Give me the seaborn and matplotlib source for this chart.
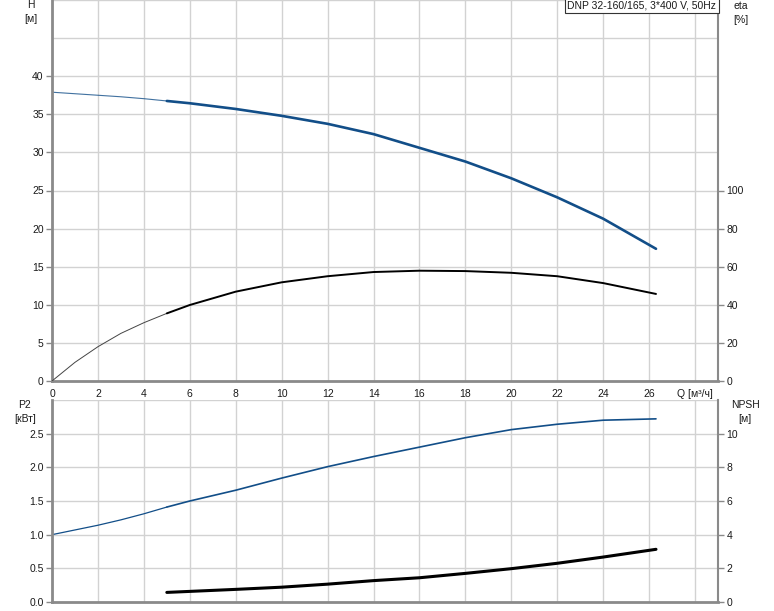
import numpy as np
import pandas as pd
import matplotlib
matplotlib.use("Agg")
import matplotlib.pyplot as plt
import seaborn as sns

# ---- data ----
q = [0, 1, 2, 3, 4, 5, 6, 8, 10, 12, 14, 16, 18, 20, 22, 24, 26.3]
head = [37.9, 37.7, 37.5, 37.3, 37.05, 36.75, 36.45, 35.7, 34.8, 33.75, 32.4, 30.6, 28.8, 26.6, 24.1, 21.3, 17.35]
eta = [0, 9.8, 18.0, 25.0, 30.6, 35.5, 39.9, 46.9, 51.8, 55.0, 57.2, 57.9, 57.7, 56.8, 55.0, 51.4, 45.7]
p2 = [1.0, 1.07, 1.14, 1.22, 1.31, 1.41, 1.50, 1.66, 1.84, 2.01, 2.16, 2.30, 2.44, 2.56, 2.64, 2.70, 2.72]
npsh_q = [5, 6, 8, 10, 12, 14, 16, 18, 20, 22, 24, 26.3]
npsh = [0.57, 0.63, 0.75, 0.88, 1.06, 1.27, 1.44, 1.70, 1.98, 2.30, 2.67, 3.13]

x_ticks = list(range(0, 29, 2))
x_labels = [str(v) for v in range(0, 27, 2)] + ["Q [м³/ч]"]
h_ticks = [0, 5, 10, 15, 20, 25, 30, 35, 40]
eta_ticks = [0, 20, 40, 60, 80, 100]
p2_ticks = [0.0, 0.5, 1.0, 1.5, 2.0, 2.5]
npsh_ticks = [0, 2, 4, 6, 8, 10]
title_text = "DNP 32-160/165, 3*400 V, 50Hz"
split_q = 5

sns.set_style("white")
plt.rcParams['font.family'] = ['Liberation Sans', 'DejaVu Sans']
plt.rcParams['font.size'] = 7.5
plt.rcParams['lines.solid_joinstyle'] = 'round'
plt.rcParams['lines.solid_capstyle'] = 'round'

W, H = 774, 611
fig = plt.figure(figsize=(W / 100, H / 100), dpi=100)

ax1 = fig.add_axes([52 / W, 1 - 381 / H, 666 / W, 381 / H])
ax1r = ax1.twinx()
ax2 = fig.add_axes([52 / W, 1 - 602 / H, 666 / W, 202 / H])
ax2r = ax2.twinx()

df = pd.DataFrame({"q": q, "head": head, "eta": eta, "p2": p2})
thin = df[df["q"] <= split_q]
thick = df[df["q"] >= split_q]
dfn = pd.DataFrame({"q": npsh_q, "npsh": npsh})

blue = "#124e88"
grid_c = "#d2d2d2"
spine_c = "#8a8a8a"
txt_c = "#1a1a1a"

# top panel
sns.lineplot(data=thin, x="q", y="head", ax=ax1, color=blue, lw=0.8, alpha=0.8, sort=False)
sns.lineplot(data=thick, x="q", y="head", ax=ax1, color=blue, lw=1.9, sort=False)
sns.lineplot(data=thin, x="q", y="eta", ax=ax1r, color="#444444", lw=0.7, sort=False)
sns.lineplot(data=thick, x="q", y="eta", ax=ax1r, color="black", lw=1.4, sort=False)

# bottom panel
sns.lineplot(data=thin, x="q", y="p2", ax=ax2, color=blue, lw=0.9, sort=False)
sns.lineplot(data=thick, x="q", y="p2", ax=ax2, color=blue, lw=1.2, sort=False)
sns.lineplot(data=dfn, x="q", y="npsh", ax=ax2r, color="black", lw=2.2, sort=False)

for a in (ax1, ax1r, ax2, ax2r):
    a.set_xlim(0, 29)
    a.set_xlabel("")
    a.set_ylabel("")

ax1.set_ylim(0, 50)
ax1r.set_ylim(0, 200)
ax2.set_ylim(0, 3)
ax2r.set_ylim(0, 12)

# grids
for v in x_ticks:
    ax1.axvline(v, color=grid_c, lw=1, zorder=0)
    ax2.axvline(v, color=grid_c, lw=1, zorder=0)
for v in np.arange(5, 51, 5):
    ax1.axhline(v, color=grid_c, lw=1, zorder=0)
for v in np.arange(0.5, 3.01, 0.5):
    ax2.axhline(v, color=grid_c, lw=1, zorder=0)

ax1.set_xticks(x_ticks)
ax1.set_xticklabels(x_labels)
ax1.set_yticks(h_ticks)
ax1.set_yticklabels([str(v) for v in h_ticks])
ax1r.set_yticks(eta_ticks)
ax1r.set_yticklabels([str(v) for v in eta_ticks])
ax2.set_xticks(x_ticks)
ax2.set_xticklabels([])
ax2.set_yticks(p2_ticks)
ax2.set_yticklabels([f"{v:.1f}" for v in p2_ticks])
ax2r.set_yticks(npsh_ticks)
ax2r.set_yticklabels([str(v) for v in npsh_ticks])

for a in (ax1, ax1r, ax2, ax2r):
    a.tick_params(axis="both", which="both", direction="out", length=4, width=1,
                  color=spine_c, labelcolor=txt_c, labelsize=7.5, pad=2)
    for s in a.spines.values():
        s.set_visible(False)
    a.grid(False)
ax2.tick_params(axis="x", length=0)

for a in (ax1, ax2):
    a.spines["left"].set_visible(True)
    a.spines["left"].set_color(spine_c)
    a.spines["left"].set_linewidth(2)
    a.spines["bottom"].set_visible(True)
    a.spines["bottom"].set_color(spine_c)
    a.spines["bottom"].set_linewidth(2)
for a in (ax1r, ax2r):
    a.spines["right"].set_visible(True)
    a.spines["right"].set_color(spine_c)
    a.spines["right"].set_linewidth(1.5)

ax1r.text(0.997, 0.998, title_text, transform=ax1r.transAxes, ha="right", va="top",
          fontsize=7.5, color=txt_c,
          bbox=dict(boxstyle="square,pad=0.25", facecolor="white", edgecolor="#333333", lw=0.8),
          zorder=10)

fig.text(31 / W, 1 - 0 / H, "H\n[м]", ha="center", va="top", fontsize=7.5, color=txt_c, linespacing=1.5)
fig.text(741 / W, 1 - 1 / H, "eta\n[%]", ha="center", va="top", fontsize=7.5, color=txt_c, linespacing=1.5)
fig.text(25 / W, 1 - 400 / H, "P2\n[кВт]", ha="center", va="top", fontsize=7.5, color=txt_c, linespacing=1.5)
fig.text(745 / W, 1 - 400 / H, "NPSH\n[м]", ha="center", va="top", fontsize=7.5, color=txt_c, linespacing=1.5)

fig.savefig("out.png", dpi=100, facecolor="white")
